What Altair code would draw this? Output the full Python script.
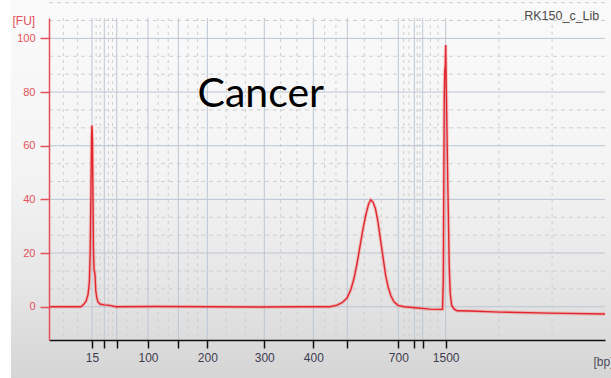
import altair as alt
import pandas as pd

# ---------------- data ----------------
# migration time (s) of the trace points and their fluorescence (FU)
trace_time = [14.50, 20.57, 21.05, 21.52, 21.90, 22.15, 22.32, 22.47, 22.58, 22.66,
              22.75, 22.85, 22.93, 23.04, 23.23, 23.38, 23.55, 23.80, 24.18, 24.94,
              25.70, 26.45, 27.21, 35.00, 45.00, 55.00, 62.00, 67.82, 69.15, 70.10,
              71.05, 71.80, 72.37, 72.94, 73.51, 74.08, 74.65, 75.13, 75.54, 75.98,
              76.45, 76.93, 77.40, 77.88, 78.35, 78.83, 79.39, 79.96, 80.72, 81.86,
              83.95, 86.79, 88.69, 89.17, 89.32, 89.41, 89.51, 89.60, 89.70, 89.77,
              89.87, 89.98, 90.12, 90.27, 90.44, 90.63, 90.91, 91.35, 91.92, 94.39,
              100.08, 109.57, 120.00]
trace_fu = [0.0, 0.0, 0.8, 2.0, 4.5, 9.0, 20.0, 45.0, 64.0, 67.5,
            62.0, 40.0, 22.0, 14.0, 12.0, 6.0, 3.5, 1.8, 1.0, 0.7,
            0.6, 0.3, 0.0, 0.1, 0.0, -0.1, 0.0, 0.0, 0.6, 1.5,
            3.2, 6.5, 10.5, 16.0, 22.5, 29.0, 34.5, 38.2, 39.8, 39.0,
            36.5, 31.5, 25.0, 18.5, 12.0, 7.5, 4.0, 1.8, 0.5, 0.0,
            -0.4, -0.9, -1.0, -1.0, 10.0, 45.0, 80.0, 88.0, 90.0, 97.5,
            84.0, 70.0, 52.0, 35.0, 15.0, 5.0, 0.5, -0.8, -1.5, -1.6,
            -2.0, -2.4, -2.7]

# ladder peaks: migration time and size
ladder_time = [22.66, 24.99, 27.35, 33.29, 39.04, 44.54, 55.35, 64.65, 71.10, 80.78, 83.82, 85.41, 89.77]
ladder_bp = [15, 25, 50, 100, 150, 200, 300, 400, 500, 700, 850, 1000, 1500]
labeled_bp = [15, 100, 200, 300, 400, 700, 1500]

fu_ticks = [0, 20, 40, 60, 80, 100]

annot_text = ["Cancer", "RK150_c_Lib"]
annot_time = [54.69, 118.92]
annot_fu = [74.5, 106.8]

# ---------------- derived tables ----------------
trace = pd.DataFrame({"t": trace_time, "fu": trace_fu})

x_min, x_max = 14.5, 120.0
y_min, y_max = -12.4, 107.6

# minor (dashed) vertical grid: thirds between ladder lines, then every ~10 s after the last
bounds = [x_min] + ladder_time
minor_x = []
for a, b in zip(bounds[:-1], bounds[1:]):
    minor_x += [a + (b - a) / 3, a + 2 * (b - a) / 3]
ext = ladder_time[-1] + 10.1
while ext < x_max:
    minor_x.append(ext)
    ext += 10.1

# horizontal grid
minor_y = []
for v in fu_ticks:
    minor_y += [v + 20 / 3, v + 40 / 3]

label_parts = [f"abs(datum.value - {t}) < 0.01 ? '{bp}'"
               for t, bp in zip(ladder_time, ladder_bp) if bp in labeled_bp]
label_expr = " : ".join(label_parts) + " : ''"

W, H = 556, 322
RED = "#e3262e"
AXRED = "#e2505a"
FONT = "Liberation Sans"

xs = alt.Scale(domain=[x_min, x_max], nice=False, zero=False)
ys = alt.Scale(domain=[y_min, y_max], nice=False, zero=False)

x_axis = alt.Axis(values=ladder_time, labelExpr=label_expr, title="[bp]",
                  titleAlign="left", titleBaseline="alphabetic", titleX=544, titleY=25,
                  titleFont=FONT, titleFontSize=12, titleFontWeight="normal", titleColor="#4a4a5a",
                  tickColor="#111111", tickSize=8, tickWidth=1.5,
                  domainColor="#111111", domainWidth=1.5,
                  labelColor="#3c3c50", labelFont=FONT, labelFontSize=12, labelPadding=4,
                  labelOverlap=False, labelFlush=False, grid=False, zindex=2)
y_axis = alt.Axis(values=fu_ticks, title="[FU]", titleAngle=0, titleAlign="left",
                  titleBaseline="alphabetic", titleX=-37, titleY=6,
                  titleFont=FONT, titleFontSize=12, titleFontWeight="normal", titleColor=AXRED,
                  labelColor=AXRED, labelFont=FONT, labelFontSize=11, labelPadding=5,
                  tickColor=AXRED, tickSize=9, tickWidth=1.5,
                  domainColor=AXRED, domainWidth=1.5, grid=False, zindex=2)

# background gradient (decorative panel)
bg = alt.Chart(pd.DataFrame({"k": [0]})).mark_rect(
    color=alt.LinearGradient(
        gradient="linear", x1=0, x2=0, y1=0, y2=1,
        stops=[alt.GradientStop(color="#fafafa", offset=0),
               alt.GradientStop(color="#f4f4f4", offset=0.45),
               alt.GradientStop(color="#e6e6e6", offset=0.75),
               alt.GradientStop(color="#d5d5d5", offset=1)])
).encode(x=alt.value(-38), x2=alt.value(W + 6), y=alt.value(-18), y2=alt.value(H + 38))

vmaj = alt.Chart(pd.DataFrame({"t": ladder_time})).mark_rule(
    color="#bcc6d2", strokeWidth=1).encode(x=alt.X("t:Q", scale=xs, axis=x_axis))
vmin = alt.Chart(pd.DataFrame({"t": minor_x})).mark_rule(
    color="#cfcfcf", strokeWidth=1, strokeDash=[3, 4]).encode(x=alt.X("t:Q", scale=xs, axis=x_axis))
hmaj = alt.Chart(pd.DataFrame({"fu": fu_ticks})).mark_rule(
    color="#bcc6d2", strokeWidth=1).encode(y=alt.Y("fu:Q", scale=ys, axis=y_axis))
hmin = alt.Chart(pd.DataFrame({"fu": minor_y})).mark_rule(
    color="#cfcfcf", strokeWidth=1, strokeDash=[4, 4]).encode(y=alt.Y("fu:Q", scale=ys, axis=y_axis))

halo = alt.Chart(trace).mark_line(color="#f07070", strokeWidth=3.5, opacity=0.35).encode(
    x=alt.X("t:Q", scale=xs, axis=x_axis), y=alt.Y("fu:Q", scale=ys, axis=y_axis))
line = alt.Chart(trace).mark_line(color=RED, strokeWidth=1.4).encode(
    x=alt.X("t:Q", scale=xs, axis=x_axis), y=alt.Y("fu:Q", scale=ys, axis=y_axis))

annot = pd.DataFrame({"label": annot_text, "t": annot_time, "fu": annot_fu})
big = alt.Chart(annot.iloc[[0]]).mark_text(
    font="Lato", fontSize=41, align="center", baseline="alphabetic", color="#000000"
).encode(x=alt.X("t:Q", scale=xs, axis=x_axis), y=alt.Y("fu:Q", scale=ys, axis=y_axis), text="label:N")
small = alt.Chart(annot.iloc[[1]]).mark_text(
    font=FONT, fontSize=12.5, align="right", baseline="alphabetic", color="#4a4a4a"
).encode(x=alt.X("t:Q", scale=xs, axis=x_axis), y=alt.Y("fu:Q", scale=ys, axis=y_axis), text="label:N")

chart = alt.layer(bg, hmin, vmin, hmaj, vmaj, halo, line, big, small).properties(
    width=W, height=H,
    padding={"left": 49, "top": 18, "right": 6, "bottom": 38},
    autosize=alt.AutoSizeParams(type="none"),
    background="white",
).configure_view(stroke=None)

chart.save("out.html", embed_options={"renderer": "svg", "actions": False})
